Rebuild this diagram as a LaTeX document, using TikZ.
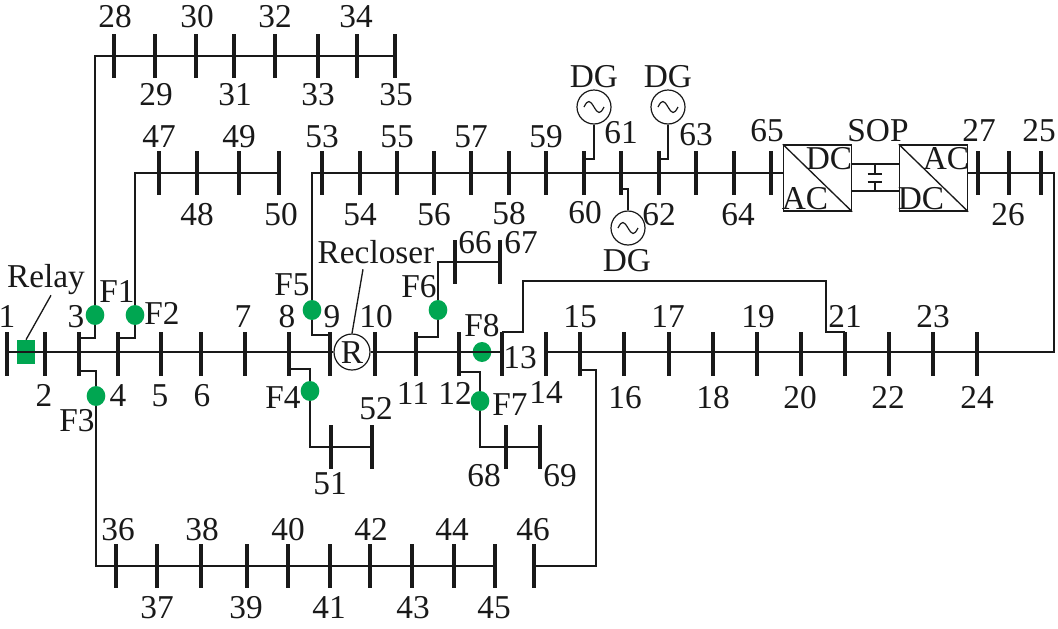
\documentclass[tikz,border=0pt]{standalone}
\usepackage{fontspec}
\setmainfont{Liberation Serif}
\definecolor{relaygreen}{RGB}{0,166,81}
\tikzset{
    busbar/.style={fill=black!90, inner sep=0, minimum width=2.8pt, minimum height=33pt},
    lbl/.style={inner sep=0, font=\fontsize{25}{27}\selectfont, text depth=0pt, text height=16.5pt, text=black!90},
    fault/.style={fill=relaygreen, ellipse, inner sep=0, minimum width=14pt, minimum height=15pt},
    gen/.style={draw=black!90, circle, line width=.9pt, inner sep=0, minimum size=25.5pt},
    conv/.style={draw=black!90, line width=1.1pt, inner sep=0, minimum width=51pt, minimum height=49.5pt},
    wire/.style={draw=black!90, line width=1pt},
}
\usetikzlibrary{shapes.geometric}
\begin{document}
\begin{tikzpicture}[x=.75pt, y=-.75pt]
\useasboundingbox (0,0) rectangle (1058,629);

\foreach \n/\x/\lx/\ly in {1/7/7/316, 2/45/44/395, 3/79/76/316, 4/118/118/395, 5/161/160/395,
    6/201/202/395, 7/245/243/316, 8/289/287/316, 9/330/332/316, 10/375/376/316, 11/416/413/393,
    12/459/455/393, 13/502/520/357, 14/546/546/392, 15/580/580/316, 16/624/625/397, 17/669/668/316,
    18/713/713/397, 19/757/758/316, 20/801/800/397, 21/845/845/316, 22/889/888/397, 23/933/933/316,
    24/977/977/397}
{
    \node [busbar] (b\n) at (\x,354) {};
    \node [lbl] (t\n) at (\lx,\ly) {\n};
}
\foreach \n/\x/\lx/\ly in {28/114/115/16, 29/155/156/94, 30/196/197/16, 31/234/235/94, 32/275/275/16,
    33/318/318/94, 34/357/356/16, 35/395/396/94}
{
    \node [busbar] (b\n) at (\x,56) {};
    \node [lbl] (t\n) at (\lx,\ly) {\n};
}
\foreach \n/\x/\lx/\ly in {47/159/159/136, 48/197/197/214, 49/239/239/136, 50/279/281/214,
    53/322/322/136, 54/360/360/214, 55/397/397/136, 56/434/434/214, 57/471/471/136, 58/509/509/213,
    59/546/546/136, 60/584/585/212, 61/621/621/132, 62/659/659/214, 63/696/696/134, 64/734/738/214,
    65/771/767/130, 27/978/979/130, 26/1009/1008/214, 25/1041/1039/130}
{
    \node [busbar] (b\n) at (\x,173) {};
    \node [lbl] (t\n) at (\lx,\ly) {\n};
}
\foreach \n/\x/\lx/\ly in {36/116/118/529, 37/157/157/607, 38/201/202/529, 39/247/246/607,
    40/288/288/529, 41/330/329/607, 42/370/371/529, 43/412/413/607, 44/454/452/529, 45/495/494/607,
    46/534/533/529}
{
    \node [busbar] (b\n) at (\x,566) {};
    \node [lbl] (t\n) at (\lx,\ly) {\n};
}
\foreach \n/\x/\y/\lx/\ly in {51/331/447/330/483, 52/372/447/376/408, 66/455/262/475/242,
    67/500/262/521/242, 68/506/447/484/475, 69/540/447/560/475}
{
    \node [busbar] (b\n) at (\x,\y) {};
    \node [lbl] (t\n) at (\lx,\ly) {\n};
}

\foreach \n/\x/\y/\lx/\ly in {F1/95/315/117/291, F2/135/315/162/313, F3/96/396/77/420, F4/310/391/283/397,
    F5/312/310/292/284, F6/438/310/419/286, F7/480/401/510/404, F8/482/352/482/325}
{
    \node [fault] (f\n) at (\x,\y) {};
    \node [lbl] (t\n) at (\lx,\ly) {\n};
}

\node [fill=relaygreen, inner sep=0, minimum width=13pt, minimum height=18pt] (relay) at (26,352) {};
\node [lbl] (trelay) at (46,276) {Relay};
\node [gen, minimum size=27pt] (rec) at (352,352) {};
\node [lbl] (trec) at (352,352) {R};
\node [lbl] (trecloser) at (376,252) {Recloser};

\node [gen] (g1) at (594,107) {};
\node [gen] (g2) at (668,107) {};
\node [gen] (g3) at (628,228) {};
\node [lbl] (tg1) at (594,76) {DG};
\node [lbl] (tg2) at (668,76) {DG};
\node [lbl] (tg3) at (627,260) {DG};
\foreach \g in {g1,g2,g3}
    \draw [line width=.9pt, black!90] ([xshift=-7.5pt]\g.center) .. controls +(3pt,6pt) and +(-3pt,5pt) .. (\g.center)
        .. controls +(3pt,-5pt) and +(-3pt,-6pt) .. ([xshift=7.5pt]\g.center);

\node [conv] (c1) at (817.5,178) {};
\node [conv] (c2) at (933.5,178) {};
\node [lbl] (tc1a) at (829,158) {DC};
\node [lbl] (tc1b) at (805,198) {AC};
\node [lbl] (tc2a) at (946,158) {AC};
\node [lbl] (tc2b) at (921,198) {DC};
\node [lbl] (tsop) at (878,130) {SOP};
\draw [wire] (c1.north west) -- (c1.south east);
\draw [wire] (c2.north west) -- (c2.south east);

\coordinate (cornerr) at (1054,173);
\coordinate (capu) at (875,174);
\coordinate (capd) at (875,182);

\draw [wire] (b1 |- rec) -- (rec);
\draw [wire] (rec) -- (b13 |- rec);
\draw [wire] (b14 |- rec) -- (b24 |- rec) -- (cornerr |- rec) -- (cornerr) -- (c2.east |- cornerr);
\draw [wire] (b65) -- (c1.west |- b65);

\draw [wire] (b3 |- 0,338) -| (fF1);
\draw [wire] (fF1) |- (b35);
\draw [wire] (b4 |- 0,338) -| (fF2);
\draw [wire] (fF2) |- (b50);
\draw [wire] (b3 |- 0,371) -| (fF3);
\draw [wire] (fF3) |- (b45);
\draw [wire] (b8 |- 0,369) -| (fF4);
\draw [wire] (fF4) |- (b52);
\draw [wire] (b9 |- 0,335) -| (fF5);
\draw [wire] (fF5) |- (b65);
\draw [wire] (b11 |- 0,337) -| (fF6);
\draw [wire] (fF6) |- (b67);
\draw [wire] (b12 |- 0,372) -| (fF7);
\draw [wire] (fF7) |- (b69);
\draw [wire] (b46) -| (596,370) -- (b15 |- 0,370);
\draw [wire] (b13 |- 0,332) -| (523,281) -| (826,332) -- (b21 |- 0,332);

\draw [wire] (g1) |- (b60 |- 0,159);
\draw [wire] (g2) |- (b62 |- 0,159);
\draw [wire] (g3) |- (b61 |- 0,189);

\draw [wire] (c1.east |- 0,164) -- (c2.west |- 0,164);
\draw [wire] (c1.east |- 0,191) -- (c2.west |- 0,191);
\draw [wire] (capu |- 0,164) -- (capu);
\draw [wire] (capd) -- (capd |- 0,191);
\draw [wire] ([xshift=-5.5pt]capu) -- ([xshift=5.5pt]capu);
\draw [wire] ([xshift=-5.5pt]capd) -- ([xshift=5.5pt]capd);

\draw [wire] ([xshift=3.75pt,yshift=-6pt]trelay.south) -- (relay.north);
\draw [wire] (rec.north) -- ([xshift=-9.75pt,yshift=-4.5pt]trecloser.south);
\end{tikzpicture}
\end{document}
